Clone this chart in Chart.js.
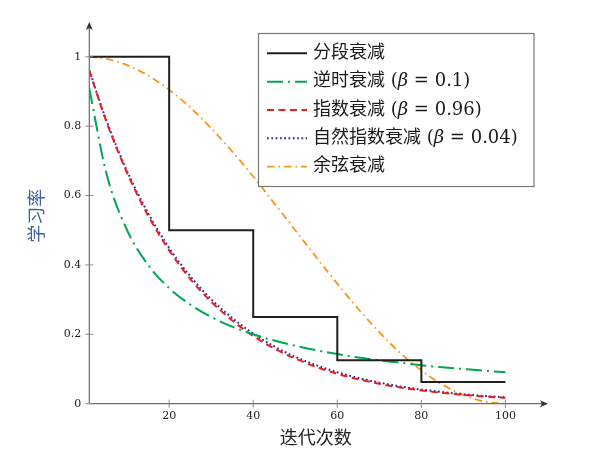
<!DOCTYPE html>
<html>
<head>
<meta charset="utf-8">
<script src="https://cdn.jsdelivr.net/npm/chart.js@4.4.0/dist/chart.umd.min.js"></script>
<style>
    html, body { margin: 0; padding: 0; background: #fff; }
    #wrap { width: 589px; height: 457px; }
</style>
</head>
<body>
<div id="wrap"><canvas id="lrChart"></canvas></div>
<script>
// sample points (iterations) for the smooth curves
const iterX = [1, 5, 10, 15, 20, 25, 30, 35, 40, 45, 50, 55, 60, 65, 70, 75, 80, 85, 90, 95, 100];

// piecewise decay, stepped
const stepX = [1, 20, 40, 60, 80, 100];
const stepLr = [1, 0.5, 0.25, 0.125, 0.0625, 0.0625];

const inverseLr = [0.909, 0.667, 0.5, 0.4, 0.333, 0.286, 0.25, 0.222, 0.2, 0.182, 0.167,
    0.154, 0.143, 0.133, 0.125, 0.118, 0.111, 0.105, 0.1, 0.095, 0.091];
const expLr = [0.96, 0.815, 0.665, 0.542, 0.442, 0.36, 0.294, 0.24, 0.195, 0.159, 0.13,
    0.106, 0.0864, 0.0704, 0.0574, 0.0468, 0.0382, 0.0311, 0.0254, 0.0207, 0.0169];
const natExpLr = [0.961, 0.819, 0.67, 0.549, 0.449, 0.368, 0.301, 0.247, 0.202, 0.165, 0.135,
    0.111, 0.0907, 0.0743, 0.0608, 0.0498, 0.0408, 0.0334, 0.0273, 0.0224, 0.0183];
const cosineLr = [1, 0.994, 0.976, 0.946, 0.905, 0.854, 0.794, 0.727, 0.655, 0.578, 0.5,
    0.422, 0.346, 0.273, 0.206, 0.146, 0.096, 0.055, 0.025, 0.006, 0];

const seriesLabels = ['分段衰减', '逆时衰减 (β = 0.1)', '指数衰减 (β = 0.96)', '自然指数衰减 (β = 0.04)', '余弦衰减'];
const xTicks = [20, 40, 60, 80, 100];
const yTicks = [0, 0.2, 0.4, 0.6, 0.8, 1];

const toPoints = (xs, ys) => xs.map((x, i) => ({ x: x, y: ys[i] }));

const AXIS_COLOR = '#6b6b6b';
const TICK_FONT = '"DejaVu Serif", serif';

// axis lines with arrowheads + tick marks crossing the axis
const axesPlugin = {
    id: 'axesArrows',
    afterDraw(chart) {
        const { ctx, chartArea: a, scales } = chart;
        ctx.save();
        ctx.strokeStyle = AXIS_COLOR;
        ctx.lineWidth = 1.2;
        ctx.beginPath();
        ctx.moveTo(a.left, a.bottom);
        ctx.lineTo(a.right + 2, a.bottom);
        ctx.moveTo(a.left, a.bottom);
        ctx.lineTo(a.left, a.top - 2);
        ctx.stroke();

        // tick marks
        ctx.strokeStyle = '#8a8a8a';
        ctx.lineWidth = 1;
        ctx.beginPath();
        xTicks.forEach(v => {
            const px = scales.x.getPixelForValue(v);
            ctx.moveTo(px, a.bottom - 4);
            ctx.lineTo(px, a.bottom + 4);
        });
        yTicks.forEach(v => {
            const py = scales.y.getPixelForValue(v);
            ctx.moveTo(a.left - 4, py);
            ctx.lineTo(a.left + 4, py);
        });
        ctx.stroke();

        // stealth arrowheads
        ctx.fillStyle = '#333';
        const tipX = a.right + 6, tipY = a.top - 6;
        ctx.beginPath();
        ctx.moveTo(tipX, a.bottom);
        ctx.lineTo(tipX - 8, a.bottom - 3.5);
        ctx.lineTo(tipX - 6, a.bottom);
        ctx.lineTo(tipX - 8, a.bottom + 3.5);
        ctx.closePath();
        ctx.fill();
        ctx.beginPath();
        ctx.moveTo(a.left, tipY);
        ctx.lineTo(a.left - 3.5, tipY + 8);
        ctx.lineTo(a.left, tipY + 6);
        ctx.lineTo(a.left + 3.5, tipY + 8);
        ctx.closePath();
        ctx.fill();
        ctx.restore();
    }
};

// boxed legend in the upper right, with beta set in italics
const legendPlugin = {
    id: 'boxLegend',
    afterDatasetsDraw(chart) {
        const ctx = chart.ctx;
        const box = { x: 258.5, y: 33.5, w: 275.5, h: 153 };
        const rowH = 28.35;
        ctx.save();
        ctx.fillStyle = '#fff';
        ctx.fillRect(box.x, box.y, box.w, box.h);
        ctx.strokeStyle = '#777';
        ctx.lineWidth = 1.2;
        ctx.strokeRect(box.x, box.y, box.w, box.h);

        chart.data.datasets.forEach((ds, i) => {
            const cy = box.y + 19.8 + i * rowH;
            ctx.strokeStyle = ds.borderColor;
            ctx.lineWidth = ds.borderWidth;
            ctx.setLineDash(ds.borderDash || []);
            ctx.beginPath();
            ctx.moveTo(267, cy);
            ctx.lineTo(307, cy);
            ctx.stroke();
            ctx.setLineDash([]);

            ctx.fillStyle = '#1a1a1a';
            ctx.textBaseline = 'middle';
            let cx = 313;
            ds.label.split('β').forEach((part, j) => {
                if (j > 0) {
                    ctx.font = 'italic 18px "DejaVu Serif"';
                    ctx.fillText('β', cx, cy);
                    cx += ctx.measureText('β').width;
                }
                ctx.font = '18px "DejaVu Serif", "Noto Sans CJK SC"';
                ctx.fillText(part, cx, cy);
                cx += ctx.measureText(part).width;
            });
        });
        ctx.restore();
    }
};

const ctx = document.getElementById('lrChart').getContext('2d');
new Chart(ctx, {
    type: 'line',
    data: {
        datasets: [
            {
                label: seriesLabels[0],
                data: toPoints(stepX, stepLr),
                stepped: 'before',
                borderColor: '#1f1f1f',
                borderWidth: 2
            },
            {
                label: seriesLabels[1],
                data: toPoints(iterX, inverseLr),
                borderColor: '#00a651',
                borderWidth: 2,
                borderDash: [16, 5, 2, 5],
                cubicInterpolationMode: 'monotone'
            },
            {
                label: seriesLabels[2],
                data: toPoints(iterX, expLr),
                borderColor: '#ed1c24',
                borderWidth: 2,
                borderDash: [7, 4.5],
                cubicInterpolationMode: 'monotone'
            },
            {
                label: seriesLabels[3],
                data: toPoints(iterX, natExpLr),
                borderColor: '#2e3192',
                borderWidth: 2,
                borderDash: [1.8, 2.5],
                cubicInterpolationMode: 'monotone'
            },
            {
                label: seriesLabels[4],
                data: toPoints(iterX, cosineLr),
                borderColor: '#f7941d',
                borderWidth: 1.8,
                borderDash: [7.5, 4, 1.5, 4],
                cubicInterpolationMode: 'monotone'
            }
        ]
    },
    options: {
        responsive: true,
        maintainAspectRatio: false,
        animation: false,
        layout: { padding: { top: 28, right: 47, left: 0, bottom: 0 } },
        elements: { point: { radius: 0 } },
        plugins: {
            legend: { display: false },
            tooltip: { enabled: false }
        },
        scales: {
            x: {
                type: 'linear',
                min: 1,
                max: 108.7,
                afterBuildTicks: s => { s.ticks = xTicks.map(v => ({ value: v })); },
                afterFit: s => { s.height = 53.3; },
                grid: { display: false, drawTicks: false },
                border: { display: false },
                ticks: {
                    padding: 6,
                    color: '#222',
                    font: { family: TICK_FONT, size: 11 },
                    maxRotation: 0
                },
                title: {
                    display: true,
                    text: '迭代次数',
                    color: '#222',
                    font: { family: '"Noto Sans CJK SC"', size: 18 },
                    padding: { bottom: 9 }
                }
            },
            y: {
                min: 0,
                max: 1.083,
                afterBuildTicks: s => { s.ticks = yTicks.map(v => ({ value: v })); },
                afterFit: s => { s.width = 89.3; },
                grid: { display: false, drawTicks: false },
                border: { display: false },
                ticks: {
                    padding: 8,
                    color: '#222',
                    font: { family: TICK_FONT, size: 11 },
                    callback: v => String(Number(v.toFixed(1)))
                },
                title: {
                    display: true,
                    text: '学习率',
                    color: '#3f5f9f',
                    font: { family: '"Noto Sans CJK SC"', size: 18 },
                    padding: { top: 25 }
                }
            }
        }
    },
    plugins: [legendPlugin, axesPlugin]
});
</script>
</body>
</html>
